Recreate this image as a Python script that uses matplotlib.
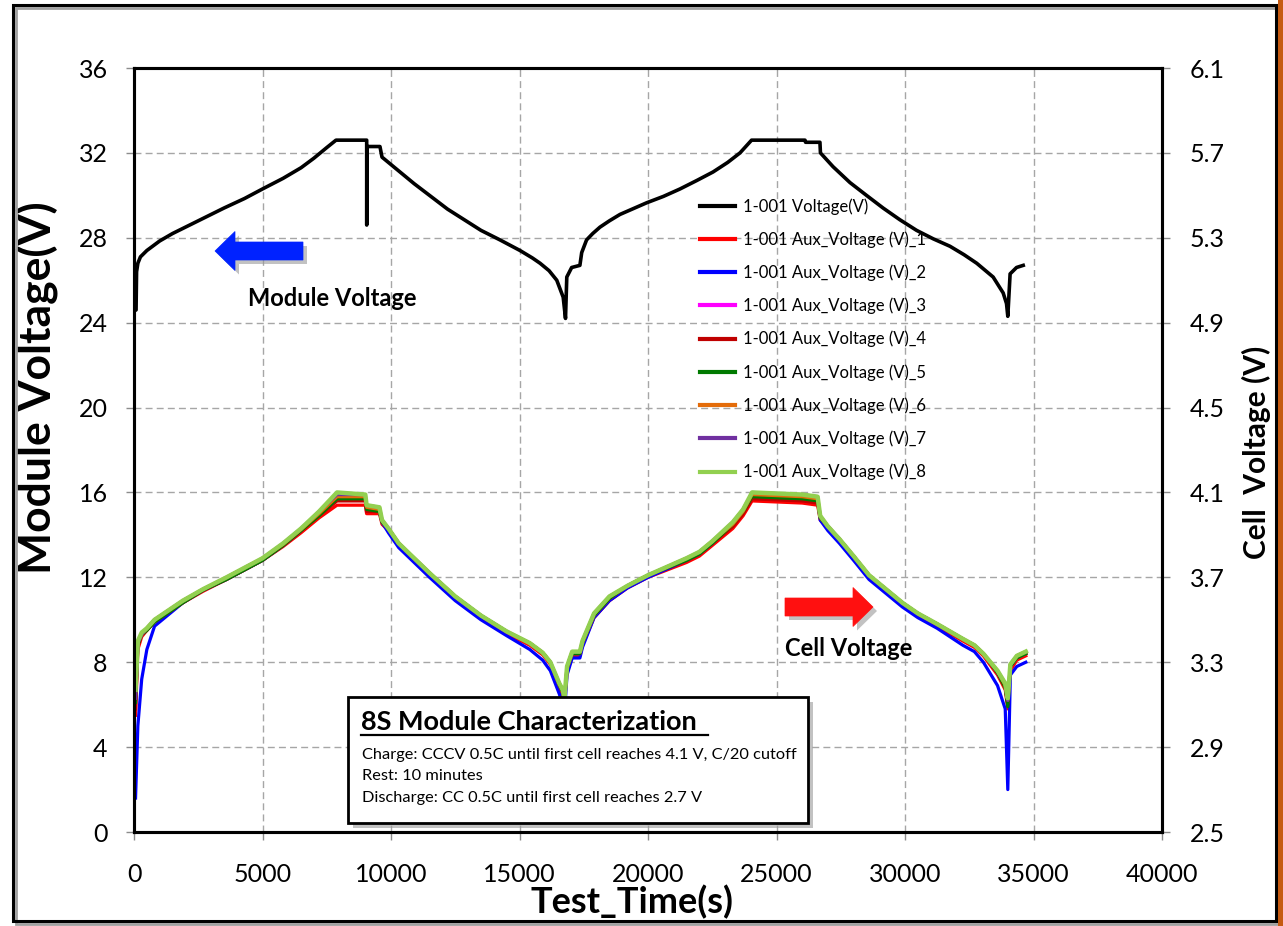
import matplotlib
matplotlib.use('Agg')
import matplotlib.pyplot as plt
import matplotlib.patches as mpatches
from matplotlib.lines import Line2D

plt.rcParams['font.family'] = ['Lato', 'DejaVu Sans']

# ── data ──
# module (pack) voltage, left axis
t_mod = [0, 80, 100, 150, 250, 500, 1000, 1500, 2500, 3500,
         4300, 5000, 5800, 6500, 7000, 7500, 7860, 9054, 9056, 9060,
         9570, 9650, 10150, 10900, 11550, 12200, 12850, 13500, 14240, 15020,
         15500, 15800, 16150, 16450, 16700, 16790, 16840, 17030, 17350, 17420,
         17610, 17850, 18130, 18500, 18910, 19950, 20600, 21245, 21900, 22530,
         23100, 23580, 24030, 26110, 26130, 26690, 26710, 27200, 27860, 28500,
         29150, 29800, 30450, 31100, 31750, 32300, 32790, 33430, 33820, 33950,
         34000, 34090, 34340, 34600]
v_mod = [24.55, 24.6, 26.4, 26.8, 27.1, 27.4, 27.85, 28.2, 28.8, 29.4,
         29.85, 30.3, 30.8, 31.3, 31.75, 32.25, 32.6, 32.6, 28.6, 32.3,
         32.3, 31.8, 31.3, 30.55, 29.95, 29.35, 28.85, 28.35, 27.9, 27.4,
         27.05, 26.8, 26.45, 26.0, 25.2, 24.2, 26.15, 26.6, 26.7, 27.3,
         27.9, 28.2, 28.5, 28.8, 29.1, 29.65, 29.95, 30.3, 30.7, 31.1,
         31.55, 32.0, 32.6, 32.6, 32.5, 32.5, 32.0, 31.35, 30.6, 30.0,
         29.4, 28.85, 28.35, 27.95, 27.6, 27.2, 26.8, 26.15, 25.4, 24.9,
         24.3, 26.3, 26.6, 26.7]

# cell voltages, right axis
t_cell = [60, 150, 300, 500, 800, 1900, 2700, 3600, 5000, 5800,
          6500, 7200, 7900, 9000, 9050, 9550, 9650, 9900, 10300, 10900,
          11500, 12500, 13500, 14500, 15400, 15900, 16200, 16550, 16680, 16750,
          16850, 17050, 17350, 17450, 17900, 18500, 19200, 20000, 21500, 22000,
          22500, 23300, 23700, 24050, 26000, 26600, 26700, 27000, 27450, 28000,
          28600, 29900, 30500, 31250, 32250, 32700, 33050, 33600, 33900, 34000,
          34100, 34350, 34700]
cell1 = [3.05, 3.36, 3.42, 3.45, 3.49, 3.58, 3.635, 3.69, 3.78, 3.845,
         3.91, 3.98, 4.04, 4.04, 4.00, 4.00, 3.95, 3.92, 3.85, 3.78,
         3.71, 3.60, 3.51, 3.435, 3.38, 3.335, 3.29, 3.18, 3.14, 3.11,
         3.25, 3.33, 3.33, 3.38, 3.51, 3.59, 3.65, 3.70, 3.77, 3.80,
         3.85, 3.93, 3.99, 4.06, 4.05, 4.04, 3.97, 3.93, 3.87, 3.79,
         3.70, 3.57, 3.52, 3.47, 3.40, 3.37, 3.33, 3.24, 3.17, 3.08,
         3.26, 3.31, 3.33]
cell2 = [2.66, 3.00, 3.22, 3.36, 3.47, 3.58, 3.64, 3.69, 3.78, 3.85,
         3.92, 4.00, 4.09, 4.08, 4.02, 4.01, 3.96, 3.91, 3.84, 3.77,
         3.70, 3.59, 3.50, 3.425, 3.36, 3.31, 3.26, 3.15, 3.10, 3.06,
         3.24, 3.32, 3.32, 3.37, 3.51, 3.59, 3.65, 3.70, 3.78, 3.81,
         3.86, 3.95, 4.01, 4.09, 4.08, 4.07, 3.97, 3.92, 3.86, 3.78,
         3.69, 3.56, 3.51, 3.46, 3.38, 3.35, 3.30, 3.19, 3.08, 2.70,
         3.24, 3.28, 3.30]
cell3 = [3.10, 3.39, 3.43, 3.46, 3.50, 3.59, 3.645, 3.70, 3.79, 3.86,
         3.93, 4.00, 4.09, 4.08, 4.03, 4.02, 3.96, 3.93, 3.86, 3.79,
         3.72, 3.61, 3.52, 3.445, 3.39, 3.345, 3.30, 3.19, 3.16, 3.12,
         3.27, 3.34, 3.34, 3.39, 3.52, 3.60, 3.66, 3.71, 3.79, 3.82,
         3.87, 3.96, 4.02, 4.09, 4.08, 4.07, 3.98, 3.94, 3.88, 3.80,
         3.71, 3.58, 3.53, 3.48, 3.41, 3.38, 3.34, 3.25, 3.19, 3.11,
         3.28, 3.32, 3.34]
cell4 = [3.08, 3.38, 3.43, 3.45, 3.49, 3.58, 3.64, 3.69, 3.78, 3.85,
         3.92, 3.99, 4.06, 4.06, 4.01, 4.01, 3.96, 3.93, 3.86, 3.79,
         3.72, 3.61, 3.52, 3.445, 3.39, 3.345, 3.30, 3.19, 3.16, 3.12,
         3.27, 3.34, 3.34, 3.39, 3.52, 3.60, 3.66, 3.71, 3.78, 3.81,
         3.86, 3.94, 4.00, 4.07, 4.06, 4.05, 3.98, 3.94, 3.88, 3.80,
         3.71, 3.58, 3.53, 3.48, 3.41, 3.38, 3.34, 3.25, 3.19, 3.10,
         3.28, 3.32, 3.34]
cell5 = [3.11, 3.38, 3.43, 3.45, 3.49, 3.58, 3.64, 3.69, 3.78, 3.85,
         3.92, 3.99, 4.07, 4.07, 4.02, 4.01, 3.96, 3.93, 3.86, 3.79,
         3.72, 3.61, 3.52, 3.445, 3.39, 3.345, 3.30, 3.19, 3.16, 3.12,
         3.27, 3.34, 3.34, 3.39, 3.52, 3.60, 3.66, 3.71, 3.78, 3.81,
         3.86, 3.95, 4.01, 4.08, 4.07, 4.06, 3.98, 3.94, 3.88, 3.80,
         3.71, 3.58, 3.53, 3.48, 3.41, 3.38, 3.34, 3.25, 3.18, 3.09,
         3.28, 3.32, 3.34]
cell6 = [3.15, 3.39, 3.43, 3.46, 3.50, 3.59, 3.645, 3.70, 3.79, 3.855,
         3.925, 4.00, 4.08, 4.08, 4.03, 4.02, 3.97, 3.93, 3.86, 3.79,
         3.72, 3.61, 3.52, 3.445, 3.39, 3.345, 3.30, 3.20, 3.17, 3.13,
         3.28, 3.35, 3.35, 3.40, 3.53, 3.61, 3.66, 3.71, 3.79, 3.82,
         3.87, 3.95, 4.01, 4.09, 4.08, 4.07, 3.99, 3.94, 3.88, 3.80,
         3.71, 3.58, 3.53, 3.48, 3.41, 3.38, 3.34, 3.26, 3.19, 3.12,
         3.29, 3.33, 3.35]
cell7 = [3.13, 3.39, 3.43, 3.46, 3.50, 3.59, 3.645, 3.70, 3.79, 3.86,
         3.93, 4.01, 4.09, 4.09, 4.04, 4.03, 3.97, 3.93, 3.86, 3.79,
         3.72, 3.61, 3.52, 3.445, 3.39, 3.345, 3.30, 3.20, 3.17, 3.13,
         3.28, 3.35, 3.35, 3.40, 3.53, 3.61, 3.66, 3.71, 3.79, 3.82,
         3.87, 3.96, 4.02, 4.10, 4.09, 4.08, 3.99, 3.94, 3.88, 3.80,
         3.71, 3.58, 3.53, 3.48, 3.41, 3.38, 3.34, 3.26, 3.20, 3.12,
         3.29, 3.33, 3.35]
cell8 = [3.17, 3.40, 3.44, 3.46, 3.50, 3.59, 3.645, 3.70, 3.79, 3.86,
         3.93, 4.01, 4.10, 4.09, 4.04, 4.03, 3.97, 3.93, 3.86, 3.79,
         3.72, 3.61, 3.52, 3.445, 3.39, 3.345, 3.30, 3.20, 3.17, 3.13,
         3.28, 3.35, 3.35, 3.40, 3.53, 3.61, 3.66, 3.71, 3.79, 3.82,
         3.87, 3.96, 4.02, 4.10, 4.09, 4.08, 3.99, 3.94, 3.88, 3.80,
         3.71, 3.58, 3.53, 3.48, 3.41, 3.38, 3.34, 3.26, 3.20, 3.13,
         3.29, 3.33, 3.35]
cells = [cell1, cell2, cell3, cell4, cell5, cell6, cell7, cell8]
cell_colors = ['#FF0000', '#0000FF', '#FF00FF', '#C00000',
               '#007A00', '#E46C0A', '#7030A0', '#92D050']
mod_label = '1-001 Voltage(V)'
cell_labels = ['1-001 Aux_Voltage (V)_%d' % i for i in range(1, 9)]

left_ticks = [0, 4, 8, 12, 16, 20, 24, 28, 32, 36]
right_ticks = [2.5, 2.9, 3.3, 3.7, 4.1, 4.5, 4.9, 5.3, 5.7, 6.1]
x_ticks = [0, 5000, 10000, 15000, 20000, 25000, 30000, 35000, 40000]

# ── figure ──
W, H = 1283, 926
fig = plt.figure(figsize=(W / 100, H / 100), dpi=100)
fig.patch.set_facecolor('white')

def fx(px): return px / W
def fy(py): return 1 - py / H

ax = fig.add_axes([fx(134), fy(832), fx(1162) - fx(134), fy(68) - fy(832)])
ax2 = ax.twinx()

mline, = ax.plot(t_mod, v_mod, color='black', lw=2.6, solid_joinstyle='round')
handles = [mline]
for v, c in zip(cells, cell_colors):
    lw = 3.2 if c == '#92D050' else 2.3
    h, = ax2.plot(t_cell, v, color=c, lw=lw, solid_joinstyle='round')
    handles.append(h)

ax.set_xlim(0, 40000)
ax.set_ylim(0, 36)
ax2.set_ylim(2.5, 6.1)
ax.set_xticks(x_ticks)
ax.set_yticks(left_ticks)
ax2.set_yticks(right_ticks)
ax2.set_yticklabels(['%.1f' % r for r in right_ticks])

ax.grid(True, color='#A6A6A6', lw=1.0, ls=(0, (5, 3)))
ax.set_axisbelow(True)

for a in (ax, ax2):
    for s in a.spines.values():
        s.set_linewidth(2.2)
        s.set_color('black')
ax.tick_params(axis='both', direction='out', length=6, width=1, color='#8C8C8C',
               labelsize=18)
ax.tick_params(axis='y', pad=13)
ax.tick_params(axis='x', pad=16)
ax2.tick_params(axis='y', direction='out', length=6, width=1, color='#8C8C8C',
                labelsize=18, pad=14)

ax.set_xlabel('Test_Time(s)', fontsize=26, fontweight='bold')
ax.xaxis.label.set_va('center')
ax.xaxis.set_label_coords((632 - 134) / 1028, (832 - 902) / 764)
ax.set_ylabel('Module Voltage(V)', fontsize=32, fontweight='bold')
ax.yaxis.label.set_va('center')
ax.yaxis.set_label_coords((38 - 134) / 1028, (832 - 388) / 764)
ax2.set_ylabel('Cell  Voltage (V)', fontsize=21.5, fontweight='bold')
ax2.yaxis.label.set_va('center')
ax2.yaxis.set_label_coords((1256 - 134) / 1028, (832 - 452) / 764)

leg = ax2.legend(handles, [mod_label] + cell_labels, loc='upper left',
                 bbox_to_anchor=((700 - 134) / 1028, (832 - 198) / 764),
                 frameon=False, fontsize=12, handlelength=2.1, handletextpad=0.5,
                 labelspacing=1.0, borderpad=0, borderaxespad=0)
for lh in leg.get_lines():
    lh.set_linewidth(3.0)

# ── annotation arrows ──
def block_arrow(x_tail, x_tip, yc, color):
    d = 1 if x_tip > x_tail else -1
    hb = x_tip - d * 20
    pts = [(x_tail, yc - 9), (hb, yc - 9), (hb, yc - 19.5), (x_tip, yc),
           (hb, yc + 19.5), (hb, yc + 9), (x_tail, yc + 9)]
    sh = [(fx(x + 4), fy(y + 4)) for x, y in pts]
    fig.add_artist(mpatches.Polygon(sh, closed=True, color='#9A9A9A', alpha=0.6,
                                    lw=0, zorder=5))
    fig.add_artist(mpatches.Polygon([(fx(x), fy(y)) for x, y in pts], closed=True,
                                    facecolor=color, edgecolor=color, lw=0.5, zorder=6))

block_arrow(303, 215, 251, '#0022FF')
block_arrow(785, 873, 607, '#FF1010')
fig.text(fx(248), fy(298), 'Module Voltage', fontsize=17, fontweight='bold',
         ha='left', va='center')
fig.text(fx(785), fy(648), 'Cell Voltage', fontsize=17, fontweight='bold',
         ha='left', va='center')

# ── text box ──
bx0, by0, bx1, by1 = 348, 697, 808, 823
fig.add_artist(mpatches.Rectangle((fx(bx0 + 5), fy(by1 + 5)), fx(bx1) - fx(bx0),
                                  fy(by0) - fy(by1), facecolor='#9A9A9A', alpha=0.6,
                                  lw=0, zorder=5))
fig.add_artist(mpatches.Rectangle((fx(bx0), fy(by1)), fx(bx1) - fx(bx0),
                                  fy(by0) - fy(by1), facecolor='white',
                                  edgecolor='black', lw=2.0, zorder=6))
fig.text(fx(361), fy(722), '8S Module Characterization', fontsize=19.5,
         fontweight='bold', ha='left', va='center', zorder=7)
fig.add_artist(Line2D([fx(361), fx(708)], [fy(735), fy(735)], color='black',
                      lw=1.6, zorder=7))
box_lines = ['Charge: CCCV 0.5C until first cell reaches 4.1 V, C/20 cutoff',
             'Rest: 10 minutes',
             'Discharge: CC 0.5C until first cell reaches 2.7 V']
for yy, s in zip([755, 776, 798], box_lines):
    fig.text(fx(362), fy(yy), s, fontsize=11.8, ha='left', va='center', zorder=7)

# ── outer frame ──
fig.add_artist(mpatches.Rectangle((fx(16), fy(924)), fx(1276) - fx(13),
                                  fy(5) - fy(921), fill=False, edgecolor='#A0A0A0',
                                  lw=2.0, zorder=4))
fig.add_artist(mpatches.Rectangle((fx(13), fy(921)), fx(1276) - fx(13),
                                  fy(5) - fy(921), fill=False, edgecolor='black',
                                  lw=2.2, zorder=5))
fig.add_artist(mpatches.Rectangle((fx(1278), 0), fx(5), 1, facecolor='#C55A11',
                                  lw=0, zorder=5))

fig.savefig('out.png', dpi=100, facecolor='white')
